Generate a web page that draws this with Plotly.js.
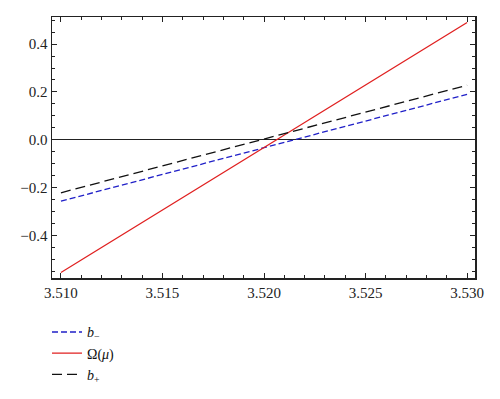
<!DOCTYPE html>
<html>
<head>
<meta charset="utf-8">
<script src="https://cdn.plot.ly/plotly-3.0.1.min.js"></script>
<style>html,body{margin:0;padding:0;background:#fff;}#chart{width:500px;height:399px;}</style>
</head>
<body>
<div id="chart"></div>
<script>
const mu = [3.510, 3.530];
const bMinus = [-0.256, 0.190];
const omega = [-0.554, 0.490];
const bPlus = [-0.221, 0.228];
const seriesNames = ['<i>b</i><sub>−</sub>', 'Ω(<i>μ</i>)', '<i>b</i><sub>+</sub>'];
const xTickVals = [3.510, 3.515, 3.520, 3.525, 3.530];
const xTickText = ['3.510', '3.515', '3.520', '3.525', '3.530'];
const yTickVals = [-0.4, -0.2, 0.0, 0.2, 0.4];
const yTickText = ['−0.4', '−0.2', '0.0', '0.2', '0.4'];

const traces = [
  {x: mu, y: bMinus, mode: 'lines', name: seriesNames[0], line: {color: '#2020c8', width: 1.3, dash: '6px,3px'}},
  {x: mu, y: omega, mode: 'lines', name: seriesNames[1], line: {color: '#e02020', width: 1.3}},
  {x: mu, y: bPlus, mode: 'lines', name: seriesNames[2], line: {color: '#111', width: 1.3, dash: '10px,5px'}}
];
const tickFont = {family: 'Liberation Serif', size: 15, color: '#222'};
const layout = {
  width: 500, height: 399,
  margin: {l: 52, r: 25, t: 17, b: 121, autoexpand: false},
  paper_bgcolor: '#fff', plot_bgcolor: '#fff',
  font: {family: 'Liberation Serif', size: 15, color: '#222'},
  showlegend: true,
  legend: {xref: 'container', yref: 'container', x: 0.094, xanchor: 'left', y: 0.207, yanchor: 'top',
           orientation: 'v',
           font: {family: 'Liberation Serif', size: 14, color: '#111'}, bgcolor: 'rgba(0,0,0,0)'},
  xaxis: {range: [3.50956, 3.53039], tickvals: xTickVals, ticktext: xTickText,
          ticks: 'inside', ticklen: 5, tickwidth: 1, tickcolor: '#222',
          minor: {dtick: 0.001, ticks: 'inside', ticklen: 3, tickcolor: '#222', showgrid: false},
          showline: true, linecolor: '#222', linewidth: 1.5, mirror: 'ticks',
          showgrid: false, zeroline: false, tickfont: tickFont, automargin: false},
  yaxis: {range: [-0.577, 0.513], tickvals: yTickVals, ticktext: yTickText,
          ticks: 'inside', ticklen: 5, tickwidth: 1, tickcolor: '#222',
          minor: {dtick: 0.05, tick0: 0, ticks: 'inside', ticklen: 3, tickcolor: '#222', showgrid: false},
          showline: true, linecolor: '#222', linewidth: 1.5, mirror: 'ticks',
          showgrid: false, zeroline: true, zerolinecolor: '#222', zerolinewidth: 1.2, tickfont: tickFont, automargin: false}
};
Plotly.newPlot('chart', traces, layout, {staticPlot: true, displayModeBar: false});
</script>
</body>
</html>
